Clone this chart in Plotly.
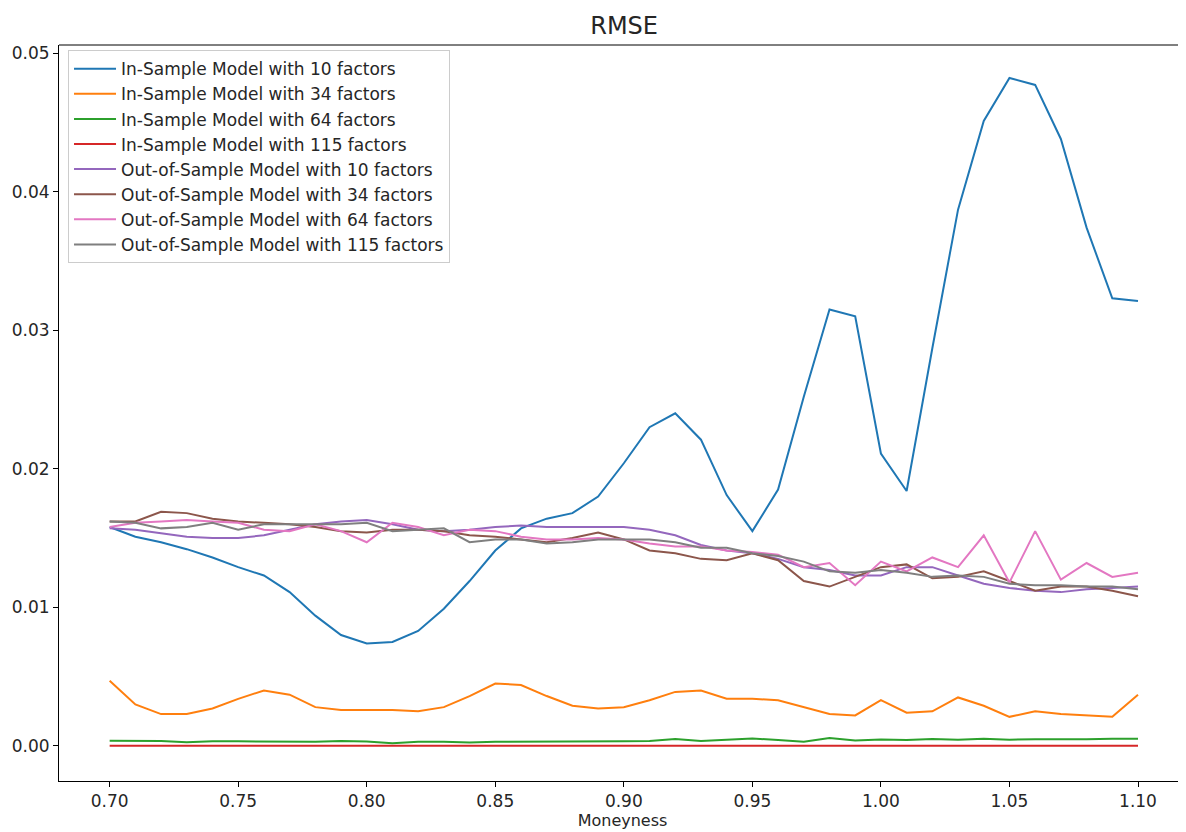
import plotly.graph_objects as go

moneyness = [round(0.70 + 0.01 * i, 2) for i in range(41)]

in_10 = [0.0158, 0.0151, 0.0147, 0.0142, 0.0136, 0.0129, 0.0123, 0.0111, 0.0094, 0.0080,
         0.0074, 0.0075, 0.0083, 0.0099, 0.0119, 0.0141, 0.0157, 0.0164, 0.0168, 0.0180,
         0.0204, 0.0230, 0.0240, 0.0221, 0.0181, 0.0155, 0.0185, 0.0252, 0.0315, 0.0310,
         0.0211, 0.0184, 0.0287, 0.0387, 0.0451, 0.0482, 0.0477, 0.0438, 0.0374, 0.0323,
         0.0321]
in_34 = [0.0047, 0.0030, 0.0023, 0.0023, 0.0027, 0.0034, 0.0040, 0.0037, 0.0028, 0.0026,
         0.0026, 0.0026, 0.0025, 0.0028, 0.0036, 0.0045, 0.0044, 0.0036, 0.0029, 0.0027,
         0.0028, 0.0033, 0.0039, 0.0040, 0.0034, 0.0034, 0.0033, 0.0028, 0.0023, 0.0022,
         0.0033, 0.0024, 0.0025, 0.0035, 0.0029, 0.0021, 0.0025, 0.0023, 0.0022, 0.0021,
         0.0037]
in_64 = [0.00038, 0.00038, 0.00036, 0.00026, 0.00033, 0.00033, 0.00032, 0.00031, 0.00030, 0.00035,
         0.00032, 0.00020, 0.00030, 0.00030, 0.00025, 0.00030, 0.00030, 0.00028, 0.00028, 0.00031,
         0.00033, 0.00036, 0.00050, 0.00036, 0.00044, 0.00054, 0.00042, 0.00031, 0.00058, 0.00040,
         0.00046, 0.00042, 0.00050, 0.00044, 0.00052, 0.00045, 0.00048, 0.00047, 0.00049, 0.00051,
         0.00051]
in_115 = [0.00001, 0.00001, 0.00001, 0.00001, 0.00001, 0.00001, 0.00001, 0.00001, 0.00001, 0.00001,
          0.00001, 0.00001, 0.00001, 0.00001, 0.00001, 0.00001, 0.00001, 0.00001, 0.00001, 0.00001,
          0.00001, 0.00001, 0.00001, 0.00001, 0.00001, 0.00001, 0.00001, 0.00001, 0.00001, 0.00001,
          0.00001, 0.00001, 0.00001, 0.00001, 0.00001, 0.00001, 0.00001, 0.00001, 0.00001, 0.00001,
          0.00001]
out_10 = [0.0157, 0.0156, 0.01535, 0.0151, 0.0150, 0.0150, 0.0152, 0.0156, 0.0160, 0.0162,
          0.0163, 0.0160, 0.0156, 0.0155, 0.0156, 0.0158, 0.0159, 0.0158, 0.0158, 0.0158,
          0.0158, 0.0156, 0.0152, 0.0145, 0.0141, 0.0139, 0.0135, 0.0129, 0.0127, 0.0123,
          0.0123, 0.0129, 0.0129, 0.0123, 0.0117, 0.0114, 0.0112, 0.0111, 0.0113, 0.0114,
          0.0115]
out_34 = [0.0162, 0.0162, 0.0169, 0.0168, 0.0164, 0.0162, 0.0161, 0.0160, 0.0158, 0.0155,
          0.0154, 0.0156, 0.0156, 0.0155, 0.0152, 0.0151, 0.0149, 0.0147, 0.0150, 0.0154,
          0.0149, 0.0141, 0.0139, 0.0135, 0.0134, 0.0139, 0.0134, 0.0119, 0.0115, 0.0122,
          0.0129, 0.0131, 0.0121, 0.0122, 0.0126, 0.0119, 0.0112, 0.0115, 0.0115, 0.0112,
          0.0108]
out_64 = [0.0158, 0.0161, 0.0162, 0.0163, 0.0162, 0.0161, 0.0156, 0.0155, 0.0160, 0.0155,
          0.0147, 0.0161, 0.0158, 0.0152, 0.0156, 0.0155, 0.0151, 0.0149, 0.0149, 0.0150,
          0.0149, 0.0146, 0.0144, 0.0144, 0.0141, 0.0140, 0.0138, 0.0129, 0.0132, 0.0116,
          0.0133, 0.0126, 0.0136, 0.0129, 0.0152, 0.0118, 0.0155, 0.0120, 0.0132, 0.0122,
          0.0125]
out_115 = [0.0162, 0.0161, 0.0157, 0.0158, 0.0161, 0.0156, 0.0160, 0.0160, 0.0160, 0.0160,
           0.0161, 0.0155, 0.0156, 0.0157, 0.0147, 0.0149, 0.0149, 0.0146, 0.0147, 0.0149,
           0.0149, 0.0149, 0.0147, 0.0143, 0.0143, 0.0139, 0.0137, 0.0133, 0.0126, 0.0125,
           0.0127, 0.0125, 0.0122, 0.0123, 0.0122, 0.0117, 0.0116, 0.0116, 0.0115, 0.0115,
           0.0113]

series_names = [
    "In-Sample Model with 10 factors",
    "In-Sample Model with 34 factors",
    "In-Sample Model with 64 factors",
    "In-Sample Model with 115 factors",
    "Out-of-Sample Model with 10 factors",
    "Out-of-Sample Model with 34 factors",
    "Out-of-Sample Model with 64 factors",
    "Out-of-Sample Model with 115 factors",
]
series_values = [in_10, in_34, in_64, in_115, out_10, out_34, out_64, out_115]
colors = ["#1f77b4", "#ff7f0e", "#2ca02c", "#d62728",
          "#9467bd", "#8c564b", "#e377c2", "#7f7f7f"]

FONT = "DejaVu Sans"

fig = go.Figure()
for name, vals, col in zip(series_names, series_values, colors):
    fig.add_trace(go.Scatter(x=moneyness, y=vals, mode="lines", name=name,
                             line=dict(color=col, width=2)))

fig.update_layout(
    width=1178, height=824,
    margin=dict(l=51, r=0, t=37, b=51, autoexpand=False),
    paper_bgcolor="white", plot_bgcolor="white",
    font=dict(family=FONT, size=17, color="#262626"),
    title=dict(text="RMSE", x=0.523, xanchor="center", y=0.979, yanchor="middle",
               font=dict(family=FONT, size=24, color="#262626")),
    showlegend=True,
    legend=dict(x=0.008, y=0.993, xanchor="left", yanchor="top",
                bgcolor="rgba(255,255,255,0.8)", bordercolor="#cccccc", borderwidth=1,
                font=dict(family=FONT, size=17, color="#262626"),
                tracegroupgap=0, itemwidth=42),
    xaxis=dict(range=[0.6803, 1.11867], tickmode="array",
               tickvals=[0.70, 0.75, 0.80, 0.85, 0.90, 0.95, 1.00, 1.05, 1.10],
               ticktext=["0.70", "0.75", "0.80", "0.85", "0.90", "0.95", "1.00", "1.05", "1.10"],
               showgrid=False, zeroline=False, showline=True, linecolor="black", linewidth=1,
               mirror=False, ticks="outside", ticklen=5, tickcolor="black", automargin=False,
               title=dict(text="Moneyness", font=dict(family=FONT, size=16), standoff=4)),
    yaxis=dict(range=[-0.00253, 0.05058], tickmode="array",
               tickvals=[0.00, 0.01, 0.02, 0.03, 0.04, 0.05],
               ticktext=["0.00", "0.01", "0.02", "0.03", "0.04", "0.05"],
               showgrid=False, zeroline=False, showline=True, linecolor="black", linewidth=1,
               mirror=False, ticks="outside", ticklen=5, tickcolor="black", automargin=False),
    shapes=[dict(type="line", xref="paper", yref="paper", x0=0, x1=1, y0=1, y1=1,
                 line=dict(color="black", width=1))],
)

fig.write_html("out.html")
